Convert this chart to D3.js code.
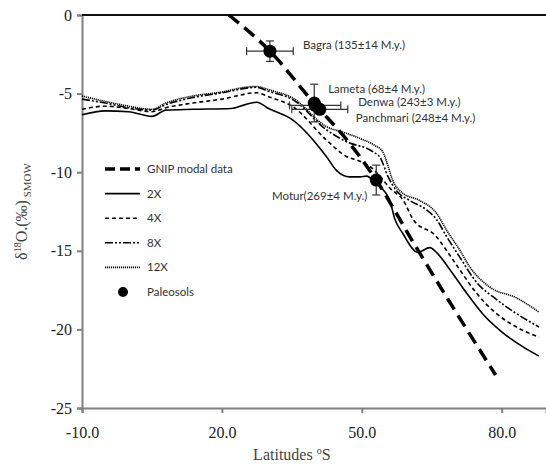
<!DOCTYPE html>
<html>
<head>
<meta charset="utf-8">
<script src="https://cdn.jsdelivr.net/npm/d3@7/dist/d3.min.js"></script>
<style>
  body { margin: 0; background: #fff; }
  svg { display: block; }
  .note { font-family: Lato, "Open Sans", sans-serif; font-size: 11.5px; fill: #333; }
</style>
</head>
<body>
<svg id="chart" width="546" height="473"></svg>
<script>
// axis ticks
const latTicks = [-10, 20, 50, 80];
const dTicks = [0, -5, -10, -15, -20, -25];

// GNIP modal data (latitude, d18O)
const gnip = [[21.5, 0], [30.3, -2.3], [40, -5.7], [46.4, -7.8], [53.1, -10.5], [60.7, -14.3], [70.4, -19.0], [78.7, -22.9]];

// model curves
const curve2X = [[-10, -6.35], [-5, -6.1], [0, -6.15], [5, -6.45], [8, -6.05], [13.8, -6.0], [22, -5.95], [25, -5.7], [27.5, -5.55], [30, -5.95], [35.3, -6.7], [42.4, -9.0], [44.6, -9.9], [47.4, -10.3], [49.6, -10.3], [51, -10.25], [53, -10.7], [56, -11.8], [57.1, -13.0], [58.8, -13.9], [62, -15.1], [64.6, -14.8], [66, -15.1], [68.9, -16.2], [72.5, -17.7], [75.9, -19.0], [80.2, -20.2], [84.5, -21.1], [88, -21.7]];
const curve4X = [[-10, -6.0], [-5, -5.8], [0, -5.95], [5, -6.15], [8, -5.9], [13.8, -5.6], [20, -5.35], [27.4, -4.95], [30, -5.2], [35.3, -5.85], [42.4, -7.95], [46.7, -9.0], [49.6, -9.3], [52, -9.7], [54, -10.3], [56, -11.0], [58.9, -11.8], [61, -13.0], [66, -14.1], [68.1, -14.95], [71, -16.2], [74.6, -17.7], [78.9, -19.0], [83.2, -19.85], [88, -20.5]];
const curve8X = [[-10, -5.35], [-5, -5.6], [0, -5.9], [5, -6.05], [8, -5.7], [13.8, -5.25], [20, -4.95], [27.4, -4.6], [30, -4.85], [35.3, -5.4], [42.4, -7.3], [46.7, -8.06], [52.4, -8.7], [54, -9.1], [55.5, -10.2], [57.5, -11.2], [60.3, -11.8], [63.9, -12.4], [66, -13.0], [68.2, -14.1], [71, -15.4], [74.6, -17.0], [78.9, -18.1], [83.2, -19.0], [88, -19.85]];
const curve12X = [[-10, -5.15], [-5, -5.5], [0, -5.8], [5, -6.0], [8, -5.6], [13.8, -5.15], [20, -4.9], [25, -4.6], [27.4, -4.55], [30, -4.75], [35.3, -5.3], [42.4, -7.1], [46.4, -7.5], [50, -7.9], [52.8, -8.3], [54.5, -8.7], [55.4, -9.4], [56.6, -10.5], [58.6, -11.3], [62.4, -11.8], [66, -12.6], [68.2, -13.7], [71, -14.95], [73.1, -16.0], [77.4, -17.3], [83.2, -18.0], [88, -18.9]];

// paleosols
const soilNames = ["Bagra (135±14 M.y.)", "Lameta (68±4 M.y.)", "Denwa (243±3 M.y.)", "Panchmari (248±4 M.y.)", "Motur(269±4 M.y.)"];
const soilLat = [30.3, 39.8, 40.0, 41.0, 53.1];
const soilD = [-2.3, -5.6, -5.75, -6.0, -10.5];
const soilLatErr = [5, 0, 5.5, 6.0, 0];
const soilDErr = [0.65, 1.2, 0.3, 0.3, 0.95];

const legendLabels = ["GNIP modal data", "2X", "4X", "8X", "12X", "Paleosols"];

const serif = '"Liberation Serif", "DejaVu Serif", "Times New Roman", serif';
const svg = d3.select("#chart");
const x = d3.scaleLinear().domain([-10, 89.5]).range([82, 546]);
const y = d3.scaleLinear().domain([-25, 0]).range([408, 15]);

// axes
const yAxis = svg.append("g")
    .attr("transform", `translate(${x(-10)},0)`)
    .call(d3.axisLeft(y).tickValues(dTicks).tickSize(5).tickPadding(5).tickFormat(d => String(d)));
const xAxis = svg.append("g")
    .attr("transform", `translate(0,${y(-25)})`)
    .call(d3.axisBottom(x).tickValues(latTicks).tickSize(5).tickPadding(14).tickFormat(d => d.toFixed(1)));
[yAxis, xAxis].forEach(a => {
    a.attr("font-family", serif).attr("font-size", 16);
    a.selectAll(".tick text").attr("fill", "#222");
    a.select(".domain").attr("stroke", "#808080").attr("stroke-width", 2);
    a.selectAll(".tick line").attr("stroke", "#808080").attr("stroke-width", 2);
});

// zero line at top
svg.append("line")
    .attr("x1", x(-10)).attr("x2", x(89.5))
    .attr("y1", y(0)).attr("y2", y(0))
    .attr("stroke", "#111").attr("stroke-width", 2);

// axis titles
svg.append("text")
    .attr("x", x(35)).attr("y", 460)
    .attr("text-anchor", "middle")
    .attr("font-family", serif)
    .attr("font-size", 16).attr("fill", "#444")
    .html('Latitudes <tspan dy="-6" font-size="10px">o</tspan><tspan dy="6">S</tspan>');

svg.append("text")
    .attr("transform", `translate(27,${y(-12.5)}) rotate(-90)`)
    .attr("text-anchor", "middle")
    .attr("font-family", serif)
    .attr("font-size", 16).attr("fill", "#444")
    .html('δ<tspan dy="-6" font-size="10px">18</tspan><tspan dy="6">O.(‰)</tspan><tspan dy="4" font-size="11px"> SMOW</tspan>');

// styles per series
const lineStyles = [
    { w: 3.5, dash: "13,7" },
    { w: 1.6, dash: null },
    { w: 1.6, dash: "4,3" },
    { w: 1.6, dash: "8,2,2,2,2,2" },
    { w: 1.6, dash: "1.2,0.8" }
];

const line = d3.line().x(d => x(d[0])).y(d => y(d[1])).curve(d3.curveMonotoneX);
const curves = [curve12X, curve8X, curve4X, curve2X];
const curveStyle = [4, 3, 2, 1];
curves.forEach((c, i) => {
    const s = lineStyles[curveStyle[i]];
    svg.append("path")
        .attr("d", line(c))
        .attr("fill", "none")
        .attr("stroke", "#000")
        .attr("stroke-width", s.w)
        .attr("stroke-dasharray", s.dash);
});

svg.append("path")
    .attr("d", line(gnip))
    .attr("fill", "none")
    .attr("stroke", "#000")
    .attr("stroke-width", lineStyles[0].w)
    .attr("stroke-dasharray", lineStyles[0].dash);

// paleosol error bars and markers
const soils = soilNames.map((n, i) => ({ name: n, lat: soilLat[i], d: soilD[i], ex: soilLatErr[i], ey: soilDErr[i] }));
const eb = svg.append("g").attr("stroke", "#333").attr("stroke-width", 1.2);
soils.forEach(s => {
    if (s.ex > 0) {
        eb.append("line").attr("x1", x(s.lat - s.ex)).attr("x2", x(s.lat + s.ex)).attr("y1", y(s.d)).attr("y2", y(s.d));
        [s.lat - s.ex, s.lat + s.ex].forEach(v => eb.append("line").attr("x1", x(v)).attr("x2", x(v)).attr("y1", y(s.d) - 4).attr("y2", y(s.d) + 4));
    }
    if (s.ey > 0) {
        eb.append("line").attr("x1", x(s.lat)).attr("x2", x(s.lat)).attr("y1", y(s.d - s.ey)).attr("y2", y(s.d + s.ey));
        [s.d - s.ey, s.d + s.ey].forEach(v => eb.append("line").attr("x1", x(s.lat) - 4).attr("x2", x(s.lat) + 4).attr("y1", y(v)).attr("y2", y(v)));
    }
});
svg.selectAll(".soil").data(soils).enter().append("circle")
    .attr("class", "soil")
    .attr("cx", d => x(d.lat)).attr("cy", d => y(d.d)).attr("r", 6.5)
    .attr("fill", "#000");

// labels next to points
const labelOffsets = [[33, -6, "start"], [14, -14, "start"], [43, -3, "start"], [36, 9, "start"], [-9, 16, "end"]];
soils.forEach((s, i) => {
    svg.append("text").attr("class", "note")
        .attr("x", x(s.lat) + labelOffsets[i][0])
        .attr("y", y(s.d) + labelOffsets[i][1])
        .attr("dy", "0.35em")
        .attr("text-anchor", labelOffsets[i][2])
        .text(s.name);
});

// legend
const lg = svg.append("g").attr("transform", "translate(105,169)");
legendLabels.forEach((lab, i) => {
    const row = lg.append("g").attr("transform", `translate(0,${i * 24.6})`);
    if (i < 5) {
        row.append("line").attr("x1", 0).attr("x2", 35).attr("y1", 0).attr("y2", 0)
            .attr("stroke", "#000")
            .attr("stroke-width", lineStyles[i].w)
            .attr("stroke-dasharray", i === 0 ? "10,5" : lineStyles[i].dash);
    } else {
        row.append("circle").attr("cx", 18).attr("cy", 0).attr("r", 5).attr("fill", "#000");
    }
    row.append("text").attr("class", "note").attr("x", 42).attr("dy", "0.35em").text(lab);
});
</script>
</body>
</html>
